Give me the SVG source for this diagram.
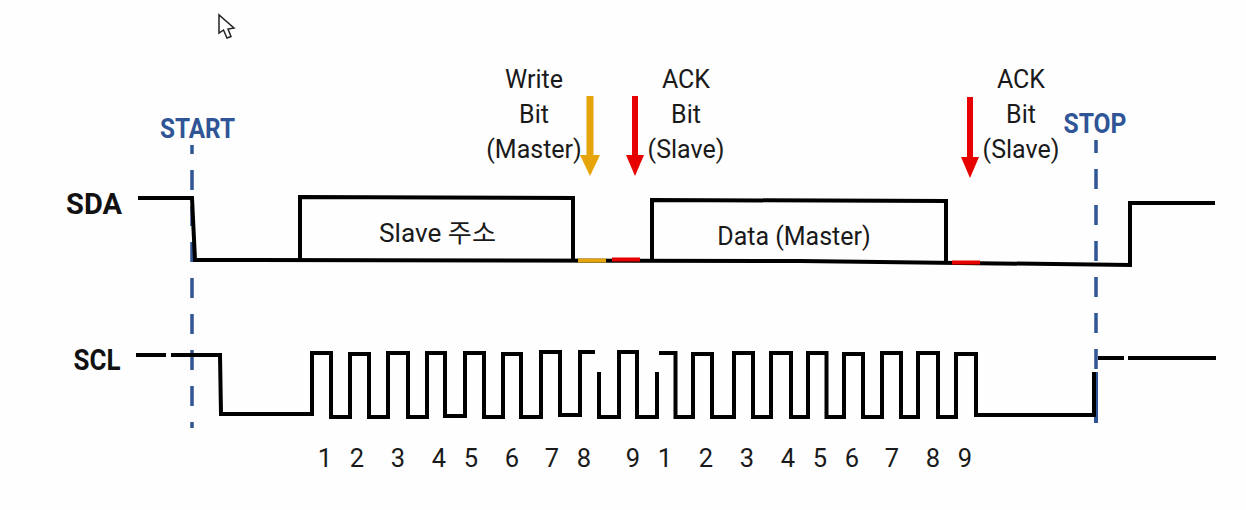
<svg xmlns="http://www.w3.org/2000/svg" width="1246" height="510" viewBox="0 0 1246 510">
<defs>
<style>
.w{fill:none;stroke:#000;stroke-width:4;stroke-linejoin:miter}
.t{font-family:Roboto,"Noto Sans CJK KR",sans-serif;font-size:25px;fill:#1a1a1a;text-anchor:middle}
.n{font-family:Roboto,sans-serif;font-size:25.500px;fill:#1a1a1a;text-anchor:middle}
.b{font-family:Roboto,sans-serif;font-weight:700;font-size:27px;text-anchor:middle}
.h{font-family:Roboto,sans-serif;font-weight:700;font-size:29px;text-anchor:middle;fill:#111}
.g{fill:none;stroke:#2f5597;stroke-width:3.500;stroke-dasharray:20 16}
</style>
<marker id="ao" markerUnits="userSpaceOnUse" markerWidth="24" markerHeight="24" refX="0" refY="12" orient="auto"><path d="M0 2L21 12L0 22Z" fill="#e5a50a"/></marker>
<marker id="ar" markerUnits="userSpaceOnUse" markerWidth="24" markerHeight="24" refX="0" refY="12" orient="auto"><path d="M0 3L21 12L0 21Z" fill="#e60000"/></marker>
</defs>
<rect width="1246" height="510" fill="#fefefe"/>
<g id="cursor"><path d="M219 15L219 33L223.500 30L227 38L231 36.500L228 29L234 28Z" fill="#fff" stroke="#222" stroke-width="1.500"/></g>
<g id="connectors">
<line class="g" x1="192" y1="145" x2="192" y2="428" stroke-dashoffset="11"/>
<line class="g" x1="1096" y1="140" x2="1096" y2="423" stroke-dashoffset="7"/>
<path d="M1096 372V423" stroke="#2f5597" stroke-width="4" fill="none"/>
<path id="sda" class="w" d="M138 198H192L195 260L800 261L1130 265V203H1215"/>
<path class="w" d="M300 260V197L573 198V260"/>
<path class="w" d="M652 260V200L946 201V263"/>
<path d="M578 260.500H606" stroke="#e5a50a" stroke-width="4" fill="none"/>
<path d="M612 259.500H640" stroke="#e60000" stroke-width="4" fill="none"/>
<path d="M952 262.500H980" stroke="#e60000" stroke-width="4" fill="none"/>
<path id="scl" class="w" d="M136 355H166M171 355H220L221 414H312V353H331V417H350V354H369V417H388V353H408V417H427V353H445V416H465V353H484V417H503V354H521V417H541V352H560V415H580V352H595M599 372V417H619V352H637V417H657V372M659 353H675.500V417H693V354H712V417H734V353H753V417H771V353H791V417H808V353H826.500V417H844V354H863V417H882V353H901V417H918V353H938V417H956V354H976V415H1094V372M1098 358H1124M1128 358H1216"/>
<line x1="590" y1="96" x2="590" y2="155" stroke="#e5a50a" stroke-width="7" marker-end="url(#ao)"/>
<line x1="635" y1="96" x2="635" y2="155" stroke="#e60000" stroke-width="6" marker-end="url(#ar)"/>
<line x1="970" y1="97" x2="970" y2="157" stroke="#e60000" stroke-width="6" marker-end="url(#ar)"/>
</g>
<g id="label-start"><text class="b" x="197.500" y="138" fill="#2f5597" textLength="75" lengthAdjust="spacingAndGlyphs">START</text></g>
<g id="label-stop"><text class="b" x="1095" y="133" fill="#2f5597" textLength="63" lengthAdjust="spacingAndGlyphs">STOP</text></g>
<g id="label-sda"><text class="h" x="94" y="214">SDA</text></g>
<g id="label-scl"><text class="h" x="97" y="370" textLength="47" lengthAdjust="spacingAndGlyphs">SCL</text></g>
<g id="write-bit"><text class="t" x="534" y="88">Write</text><text class="t" x="534" y="123">Bit</text><text class="t" x="534" y="158">(Master)</text></g>
<g id="ack-bit-1"><text class="t" x="686" y="88">ACK</text><text class="t" x="686" y="123">Bit</text><text class="t" x="686" y="158">(Slave)</text></g>
<g id="ack-bit-2"><text class="t" x="1021" y="88">ACK</text><text class="t" x="1021" y="123">Bit</text><text class="t" x="1021" y="158">(Slave)</text></g>
<g id="slave-addr"><text class="t" x="437.500" y="242" textLength="117" lengthAdjust="spacingAndGlyphs">Slave 주소</text></g>
<g id="data-master"><text class="t" x="794" y="245">Data (Master)</text></g>
<g id="clock-numbers">
<text class="n" x="325" y="467">1</text><text class="n" x="357" y="467">2</text><text class="n" x="398" y="467">3</text><text class="n" x="439" y="467">4</text><text class="n" x="471" y="467">5</text><text class="n" x="512" y="467">6</text><text class="n" x="552" y="467">7</text><text class="n" x="584" y="467">8</text><text class="n" x="633" y="467">9</text><text class="n" x="665" y="467">1</text><text class="n" x="706" y="467">2</text><text class="n" x="747" y="467">3</text><text class="n" x="788" y="467">4</text><text class="n" x="820" y="467">5</text><text class="n" x="852" y="467">6</text><text class="n" x="892" y="467">7</text><text class="n" x="933" y="467">8</text><text class="n" x="965" y="467">9</text>
</g>
</svg>
